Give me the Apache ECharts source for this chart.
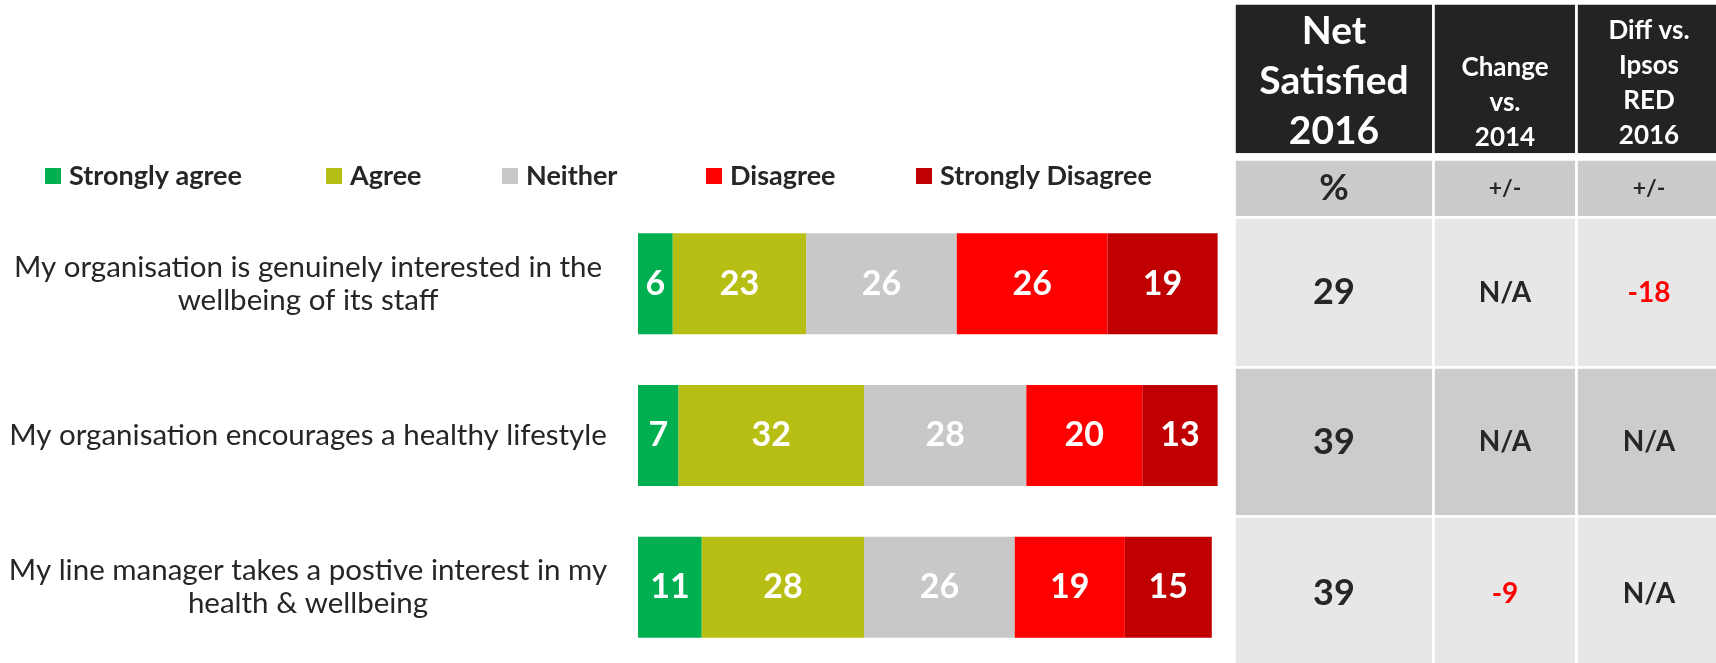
<!DOCTYPE html>
<html>
<head>
<meta charset="utf-8">
<script src="https://cdn.jsdelivr.net/npm/echarts@6/dist/echarts.min.js"></script>
<style>
  html, body { margin: 0; padding: 0; background: #ffffff; }
  #chart { width: 1716px; height: 663px; }
</style>
</head>
<body>
<div id="chart"></div>
<script>
// Statements shown on the left
const categories = [
  'My organisation is genuinely interested in the\nwellbeing of its staff',
  'My organisation encourages a healthy lifestyle',
  'My line manager takes a postive interest in my\nhealth & wellbeing'
];

// Response scale
const seriesNames = ['Strongly agree', 'Agree', 'Neither', 'Disagree', 'Strongly Disagree'];

// Percentages per statement
const stronglyAgree    = [6, 7, 11];
const agree            = [23, 32, 28];
const neither          = [26, 28, 26];
const disagree         = [26, 20, 19];
const stronglyDisagree = [19, 13, 15];

// Summary table
const tableHeaders  = ['Net\nSatisfied\n2016', 'Change\nvs.\n2014', 'Diff vs.\nIpsos\nRED\n2016'];
const tableUnits    = ['%', '+/-', '+/-'];
const netSatisfied  = [29, 39, 39];
const changeVs2014  = ['N/A', 'N/A', -9];
const diffVsRed2016 = [-18, 'N/A', 'N/A'];

const FONT = 'Lato, "Open Sans", sans-serif';
const TEXT = '#262626';
const colors = ['#00b050', '#b8bf14', '#c8c8c6', '#ff0000', '#c00000'];
const seriesValues = [stronglyAgree, agree, neither, disagree, stronglyDisagree];
const legendLeft = [45, 326, 502, 706, 916];

const chart = echarts.init(document.getElementById('chart'), null, { renderer: 'canvas' });

// --- summary table built on the matrix coordinate system ---
const colKeys = ['c0', 'c1', 'c2'];
const rowKeys = ['r0', 'r1', 'r2'];
const cells = [];
const rowFill = ['#e7e7e7', '#cccccc', '#e7e7e7'];
// header text sits low in its cell: a blank spacer line of this height pushes it down
const headerSpacer = [1, 45, 8];
tableHeaders.forEach((h, c) => {
  const big = c === 0;
  const lines = h.split('\n').map(s => '{t|' + s + '}');
  cells.push({
    coord: [colKeys[c], 'head'],
    value: ['{sp|}'].concat(lines).join('\n'),
    itemStyle: { color: '#232323' },
    label: {
      color: '#ffffff', fontFamily: FONT, fontWeight: 'bold',
      fontSize: big ? 39 : 26, lineHeight: big ? 50 : 35,
      overflow: 'none', lineOverflow: 'none',
      rich: {
        sp: { lineHeight: headerSpacer[c], fontSize: 1 },
        t: {
          color: '#ffffff', fontFamily: FONT, fontWeight: 'bold',
          fontSize: big ? 39 : 26, lineHeight: big ? 50 : 35
        }
      }
    }
  });
  cells.push({ coord: [colKeys[c], 'gap'], value: '', itemStyle: { color: '#ffffff' } });
  cells.push({
    coord: [colKeys[c], 'unit'], value: tableUnits[c],
    itemStyle: { color: '#cbcbcb' },
    label: { color: TEXT, fontFamily: FONT, fontWeight: 'bold', fontSize: big ? 36 : 23 }
  });
});
const tableCols = [netSatisfied, changeVs2014, diffVsRed2016];
rowKeys.forEach((rk, r) => {
  tableCols.forEach((col, c) => {
    const v = col[r];
    const neg = typeof v === 'number' && v < 0;
    cells.push({
      coord: [colKeys[c], rk], value: String(v),
      itemStyle: { color: rowFill[r] },
      label: {
        color: neg ? '#ff0000' : TEXT, fontFamily: FONT, fontWeight: 'bold',
        fontSize: c === 0 ? 36 : 28
      }
    });
  });
});

const option = {
  backgroundColor: '#ffffff',
  animation: false,
  color: colors,
  legend: seriesNames.map((name, i) => ({
    data: [name],
    left: legendLeft[i],
    top: 160,
    padding: 0,
    icon: 'rect',
    itemWidth: 16,
    itemHeight: 16,
    selectedMode: false,
    textStyle: { fontFamily: FONT, fontSize: 27, fontWeight: 'bold', color: TEXT, lineHeight: 32, padding: [0, 0, 0, 3] }
  })),
  grid: { left: 638, top: 208, width: 579.6, height: 458, containLabel: false },
  xAxis: { type: 'value', min: 0, max: 100, show: false },
  yAxis: {
    type: 'category',
    inverse: true,
    data: categories,
    axisLine: { show: false },
    axisTick: { show: false },
    splitLine: { show: false },
    axisLabel: {
      margin: 330, align: 'center', fontFamily: FONT, fontSize: 29.5,
      lineHeight: 33, color: TEXT
    }
  },
  matrix: {
    left: 1234, top: 3, width: 487, height: 667,
    backgroundStyle: { color: 'transparent', borderWidth: 0 },
    x: { show: false, data: [{ value: 'c0', size: 199 }, { value: 'c1', size: 143 }, { value: 'c2', size: 145 }] },
    y: {
      show: false,
      data: [
        { value: 'head', size: 151 }, { value: 'gap', size: 5 }, { value: 'unit', size: 58 },
        { value: 'r0', size: 150 }, { value: 'r1', size: 149 }, { value: 'r2', size: 154 }
      ]
    },
    body: {
      itemStyle: { color: '#ffffff', borderColor: '#ffffff', borderWidth: 2.6 },
      data: cells
    }
  },
  series: seriesNames.map((name, i) => ({
    name,
    type: 'bar',
    stack: 'total',
    barWidth: 101,
    data: seriesValues[i],
    itemStyle: { color: colors[i] },
    label: {
      show: true, position: 'inside', color: '#ffffff', fontFamily: FONT,
      fontWeight: 'bold', fontSize: 34
    }
  }))
};

chart.setOption(option);
</script>
</body>
</html>
